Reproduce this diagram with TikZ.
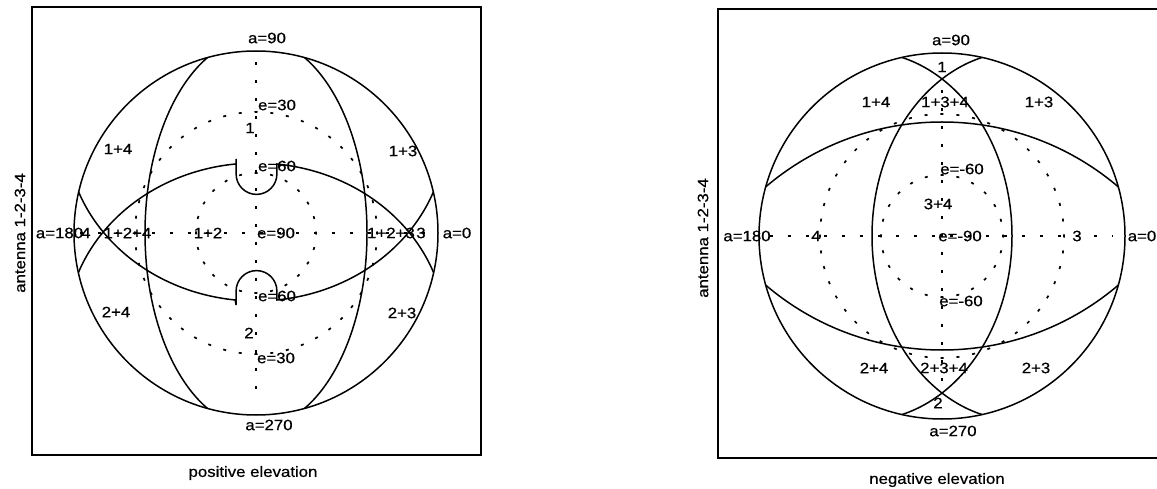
\documentclass[tikz,border=0pt]{standalone}
\usepackage{fontspec}
\setmainfont[FakeStretch=1.12,FakeBold=0.6]{Liberation Sans}
\begin{document}
\begin{tikzpicture}[x=1pt,y=-1pt,font=\fontsize{15}{18}\selectfont,
  frame/.style={line width=2pt},
  curve/.style={line width=1.5pt},
  azi/.style={line width=1.6pt,dash pattern=on 3pt off 15pt},
  ringA/.style={line width=1.7pt,dash pattern=on 3pt off 12.84pt,dash phase=1.5pt},
  ringB/.style={line width=1.7pt,dash pattern=on 3pt off 12.71pt,dash phase=1.5pt},
  ringC/.style={line width=1.7pt,dash pattern=on 3pt off 12.97pt,dash phase=1.5pt},
  lbl/.style={inner sep=0pt}]
\useasboundingbox (0,0) rectangle (1157,489);
\fill[white] (0,0) rectangle (1157,489);

% ---------------- left panel ----------------
\draw[frame] (32,7) rectangle (481,455);
\coordinate (Lc) at (256,233);
\draw[curve] (Lc) circle (182);
\begin{scope}
  \clip (Lc) circle (182);
  \draw[curve] (Lc) ellipse [x radius=111,y radius=195];
  \draw[curve] ([shift={(256,333)}]190:190 and 170)
    arc[start angle=190,end angle=264,x radius=190,y radius=170]
    -- ++(0,-5) -- (236.1,174)
    arc[start angle=180,end angle=0,radius=20.4]
    -- ([shift={(256,333)}]276.3:190 and 170)
    arc[start angle=276.3,end angle=350,x radius=190,y radius=170];
  \draw[curve] ([shift={(256,131)}]10:190 and 170)
    arc[start angle=10,end angle=83.7,x radius=190,y radius=170]
    -- (276.9,291)
    arc[start angle=0,end angle=-180,radius=20.4]
    -- (236.1,300) -- ++(0,5) -- ([shift={(256,131)}]96.3:190 and 170)
    arc[start angle=96.3,end angle=170,x radius=190,y radius=170];
\end{scope}
\draw[ringA] (Lc) circle (121);
\draw[ringB] (Lc) circle (60);
\coordinate (Lt) at (256,62);
\coordinate (Lb) at (256,402);
\coordinate (Ll) at (80,233);
\coordinate (Lr) at (433,233);
\draw[azi] (Lt) -- (Lb);
\draw[azi] (Ll) -- (Lr);

\node[lbl] (La90) at (267,38) {a=90};
\node[lbl] (La270) at (269,425) {a=270};
\node[lbl] (La180) at (59.5,233) {a=180};
\node[lbl] (La0) at (457,233) {a=0};
\node[lbl] (L4) at (86,233) {4};
\node[lbl] (L124) at (127.5,233) {1+2+4};
\node[lbl] (L12) at (208,233) {1+2};
\node[lbl] (Le90) at (276,233) {e=90};
\node[lbl] (L123) at (391,233) {1+2+3};
\node[lbl] (L3) at (421,233) {3};
\node[lbl] (Le30a) at (277,105) {e=30};
\node[lbl] (L1) at (250,128) {1};
\node[lbl] (L14) at (118,149) {1+4};
\node[lbl] (L13) at (403,151) {1+3};
\node[lbl] (Le60a) at (277,166) {e=60};
\node[lbl] (Le60b) at (277,296) {e=60};
\node[lbl] (L24) at (116,312) {2+4};
\node[lbl] (L23) at (402,313) {2+3};
\node[lbl] (L2) at (249,333) {2};
\node[lbl] (Le30b) at (276,358) {e=30};
\node[lbl,rotate=90] (Lant) at (20,233) {antenna 1-2-3-4};
\node[lbl] (Lcap) at (253,473) {positive elevation};

% ---------------- right panel ----------------
\draw[frame] (718,9) rectangle (1170,458);
\coordinate (Rc) at (942,236);
\draw[curve] (Rc) circle (183);
\begin{scope}
  \clip (Rc) circle (183);
  \draw[curve] (864.4,236) ellipse [x radius=147.6,y radius=184.6];
  \draw[curve] (1019.6,236) ellipse [x radius=147.6,y radius=184.6];
  \draw[curve] (942,394) circle (272);
  \draw[curve] (942,78) circle (272);
\end{scope}
\draw[ringC] (Rc) circle (122);
\draw[ringC] (Rc) circle (61);
\coordinate (Rt) at (942,90);
\coordinate (Rb) at (942,385);
\coordinate (Rl) at (770,236);
\coordinate (Rr) at (1113,236);
\draw[azi] (Rt) -- (Rb);
\draw[azi] (Rl) -- (Rr);

\node[lbl] (Ra90) at (951,40) {a=90};
\node[lbl] (R1) at (942,67) {1};
\node[lbl] (R14) at (876,102) {1+4};
\node[lbl] (R134) at (945,102) {1+3+4};
\node[lbl] (R13) at (1039,102) {1+3};
\node[lbl] (Rem60a) at (962,169) {e=-60};
\node[lbl] (R34) at (938,204) {3+4};
\node[lbl] (Ra180) at (747,236) {a=180};
\node[lbl] (R4) at (816,236) {4};
\node[lbl] (Rem90) at (960,236) {e=-90};
\node[lbl] (R3) at (1077,236) {3};
\node[lbl] (Ra0) at (1142,236) {a=0};
\node[lbl] (Rem60b) at (961,301) {e=-60};
\node[lbl] (R24) at (874,368) {2+4};
\node[lbl] (R234) at (944,368) {2+3+4};
\node[lbl] (R23) at (1036,368) {2+3};
\node[lbl] (R2) at (938,403) {2};
\node[lbl] (Ra270) at (953,431) {a=270};
\node[lbl,rotate=90] (Rant) at (703,238) {antenna 1-2-3-4};
\node[lbl] (Rcap) at (937,480) {negative elevation};
\end{tikzpicture}
\end{document}
